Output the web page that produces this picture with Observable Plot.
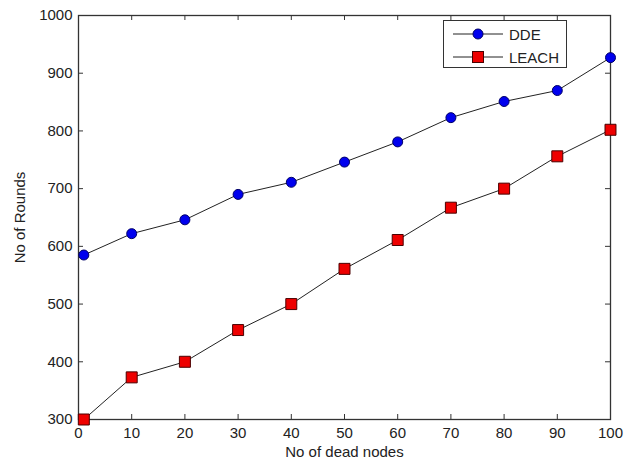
<!DOCTYPE html>
<html>
<head>
<meta charset="utf-8">
<script src="https://cdn.jsdelivr.net/npm/d3@7"></script>
<script src="https://cdn.jsdelivr.net/npm/@observablehq/plot@0.6"></script>
<style>
  html, body { margin: 0; padding: 0; background: #fff; }
  #wrap { position: relative; width: 631px; height: 464px; font-family: "Liberation Sans", Arial, sans-serif; }
  #legend { position: absolute; left: 443px; top: 20px; width: 124px; height: 48px; border: 1px solid #333; background: #fff; box-sizing: border-box; }
  .row { position: absolute; left: 0; height: 20px; display: flex; align-items: center; font-size: 15px; color: #222; }
  .row svg { margin-left: 9px; margin-right: 6px; }
</style>
</head>
<body>
<div id="wrap"></div>
<script>
const nodes = [1, 10, 20, 30, 40, 50, 60, 70, 80, 90, 100];
const ddeRounds = [585, 622, 646, 690, 711, 746, 781, 823, 851, 870, 927];
const leachRounds = [300, 373, 400, 455, 500, 561, 611, 667, 700, 756, 802];
const seriesNames = ["DDE", "LEACH"];
const xTicks = [0, 10, 20, 30, 40, 50, 60, 70, 80, 90, 100];
const yTicks = [300, 400, 500, 600, 700, 800, 900, 1000];

const dde = nodes.map((n, i) => ({n, r: ddeRounds[i]}));
const leach = nodes.map((n, i) => ({n, r: leachRounds[i]}));

const W = 631, H = 464, mL = 78, mR = 21, mT = 15, mB = 45;
const iw = W - mL - mR, ih = H - mT - mB;
const ink = "#333";

const chart = Plot.plot({
  width: W, height: H,
  marginLeft: mL, marginRight: mR, marginTop: mT, marginBottom: mB,
  style: {fontSize: "15px", fontFamily: "'Liberation Sans', Arial, sans-serif", color: "#222", background: "#fff"},
  x: {domain: [0, 100]},
  y: {domain: [300, 1000]},
  marks: [
    Plot.frame({stroke: ink, strokeWidth: 1.3}),
    Plot.tickX(xTicks, {x: d => d, insetTop: ih - 5, stroke: ink}),
    Plot.tickX(xTicks, {x: d => d, insetBottom: ih - 5, stroke: ink}),
    Plot.tickY(yTicks, {y: d => d, insetRight: iw - 5, stroke: ink}),
    Plot.tickY(yTicks, {y: d => d, insetLeft: iw - 5, stroke: ink}),
    Plot.axisX({ticks: xTicks, tickSize: 0, tickPadding: 8, label: null, tickFormat: d => String(d)}),
    Plot.axisY({ticks: yTicks, tickSize: 0, tickPadding: 6, label: null, tickFormat: d => String(d)}),
    Plot.text(["No of dead nodes"], {frameAnchor: "bottom", dy: 33, lineAnchor: "middle", textAnchor: "middle", fill: "#222"}),
    Plot.text(["No of Rounds"], {frameAnchor: "left", dx: -58, rotate: -90, lineAnchor: "middle", textAnchor: "middle", fill: "#222"}),
    Plot.line(dde, {x: "n", y: "r", stroke: "#222", strokeWidth: 1}),
    Plot.line(leach, {x: "n", y: "r", stroke: "#222", strokeWidth: 1}),
    Plot.dot(dde, {x: "n", y: "r", r: 5, fill: "#0000ee", stroke: "#000066", strokeWidth: 1}),
    Plot.dot(leach, {x: "n", y: "r", r: 6.2, symbol: "square", fill: "#ee0000", stroke: "#4a0000", strokeWidth: 1})
  ]
});

const wrap = document.getElementById("wrap");
wrap.appendChild(chart);

const legend = document.createElement("div");
legend.id = "legend";
const markers = [
  `<circle cx="25" cy="6" r="5" fill="#0000ee" stroke="#000066"/>`,
  `<rect x="19.5" y="0.5" width="11" height="11" fill="#ee0000" stroke="#4a0000"/>`
];
seriesNames.forEach((name, i) => {
  const row = document.createElement("div");
  row.className = "row";
  row.style.top = (i === 0 ? 3 : 26) + "px";
  row.innerHTML = `<svg width="50" height="12" viewBox="0 0 50 12"><line x1="0" x2="50" y1="6" y2="6" stroke="#222" stroke-width="1"/>${markers[i]}</svg><span>${name}</span>`;
  legend.appendChild(row);
});
wrap.appendChild(legend);
</script>
</body>
</html>
